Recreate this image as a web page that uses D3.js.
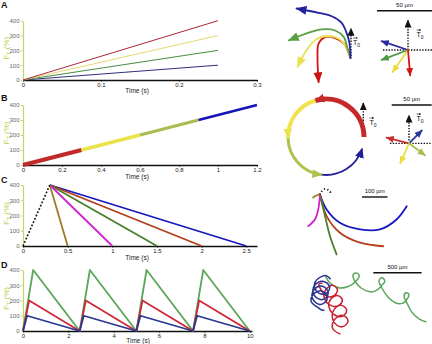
<!DOCTYPE html>
<html><head><meta charset="utf-8">
<script src="https://cdn.jsdelivr.net/npm/d3@7"></script>
<style>body{margin:0;background:#fff}svg{display:block;font-family:Arial,"Liberation Sans",sans-serif}</style>
</head><body><svg id="c" width="432" height="344"></svg>
<script>
// ================= DATA =================
const yTicks = [0, 100, 200, 300, 400];
const aTimeTicks = [0, 0.1, 0.2, 0.3];
const bTimeTicks = [0, 0.2, 0.4, 0.6, 0.8, 1, 1.2];
const cTimeTicks = [0, 0.5, 1, 1.5, 2, 2.5];
const dTimeTicks = [0, 2, 4, 6, 8, 10];

// Panel A: linear force ramps
const aTime = [0, 0.25];
const aRed = [0, 400];
const aYellow = [0, 300];
const aGreen = [0, 200];
const aBlue = [0, 100];

// Panel B: one ramp in four coloured pieces
const bTime = [[0, 0.3], [0.3, 0.6], [0.6, 0.9], [0.9, 1.2]];
const bForce = [[0, 100], [100, 200], [200, 300], [300, 400]];

// Panel C: rise then decays
const cRiseTime = [0, 0.3];
const cRiseForce = [0, 400];
const cPeakTime = 0.3;
const cDecayEnd = [2.5, 2, 1.5, 1, 0.5];

// Panel D: periodic sawtooth
const dTimeGreen = [0, 0.45, 2.5, 2.95, 5, 5.45, 7.5, 7.95, 10];
const dGreen = [0, 400, 0, 400, 0, 400, 0, 400, 0];
const dTimeRed = [0, 0.27, 2.5, 2.77, 5, 5.27, 7.5, 7.77, 10];
const dRed = [0, 200, 0, 200, 0, 200, 0, 200, 0];
const dTimeBlue = [0, 0.18, 2.5, 2.68, 5, 5.18, 7.5, 7.68, 10];
const dBlue = [0, 100, 0, 100, 0, 100, 0, 100, 0];

// Right column: trajectories (µm, relative to start)
const aTrajBlue = [[0,0],[-1,-14],[-4,-24],[-8,-32],[-17,-38],[-29,-41],[-49,-45]];
const aTrajGreen = [[0,0],[-3,-10],[-6,-19],[-14,-25],[-26,-26],[-38,-23],[-56,-16]];
const aTrajYellow = [[0,0],[-4,-10],[-10,-17],[-20,-20],[-31,-17],[-40,-7],[-48,8]];
const aTrajRed = [[0,0],[-6,-13],[-14,-18],[-23,-19],[-29,-13],[-30,-1],[-29,22]];
const aVectors = [[-24,-8],[-24,9],[-14,20],[2,23]]; // blue, green, yellow, red
const aT0 = 25;

const bRadius = 47.5;
const bArcStart = [0, 106, 181, 263];   // degrees, counter-clockwise from east
const bArcEnd = [106, 181, 263, 342];
const bVectors = [[-28,-7],[16,-16],[-11,25],[20,15]]; // red, blue, yellow, green
const bT0 = 40;

const cTrajDotted = [[42,-7],[33,-17],[20,-22],[7,-13],[0,0]];
const cTrajBrown = [[0,0],[-12,3],[-27,12]];
const cTrajMagenta = [[0,0],[-7,59],[-20,98],[-46,124]];
const cTrajGreen = [[0,0],[20,85],[39,163],[65,235]];
const cTrajRed = [[0,0],[26,85],[78,150],[157,189],[248,203]];
const cTrajBlue = [[0,0],[26,59],[78,111],[157,137],[235,137],[300,98],[340,46]];

const dTrajBlue = [[85,-95],[10,-125],[-80,-30],[0,65],[80,-5],[-10,-70],[-95,25],[-15,120],[65,50],[-20,-20],[-105,75],[-25,170],[55,100],[-30,30],[-115,125],[-30,210],[20,230]];
const dTrajRed = [[0,-50],[-30,-20],[65,90],[160,30],[90,-25],[20,85],[115,190],[210,135],[140,80],[70,185],[165,295],[255,240],[180,180],[105,290],[185,400],[270,340],[185,285],[105,395],[185,475]];
const dTrajGreen = [[40,-115],[95,-40],[185,0],[280,-20],[350,-70],[385,-125],[350,-155],[320,-125],[340,-70],[405,0],[495,40],[570,20],[620,-30],[650,-70],[620,-105],[590,-70],[610,-20],[675,85],[765,155],[840,155],[880,115],[900,70],[870,50],[850,85],[870,135],[930,250],[1005,320],[1075,350]];

const scaleBars = [50, 50, 100, 500];
const panelLetters = ['A', 'B', 'C', 'D'];

// ================= DRAW =================
const svg = d3.select('#c');
const yAxisColor = '#c3d866';
const labelGreen = '#b5cf4a';
const defs = svg.append('defs');
function marker(id, color, len, wid) {
  defs.append('marker').attr('id', id).attr('viewBox', '0 0 10 10')
    .attr('refX', 9).attr('refY', 5).attr('markerUnits', 'userSpaceOnUse')
    .attr('markerWidth', len).attr('markerHeight', wid).attr('orient', 'auto')
    .attr('preserveAspectRatio', 'none')
    .append('path').attr('d', 'M0,0L10,5L0,10Z').attr('fill', color);
}

function chart(p) {
  const x = d3.scaleLinear().domain(p.xDomain).range(p.xRange);
  const y = d3.scaleLinear().domain([0, 400]).range(p.yRange);
  const g = svg.append('g');
  const ya = g.append('g').attr('transform', `translate(${p.xRange[0]},0)`)
    .call(d3.axisLeft(y).tickValues(yTicks).tickSize(2).tickSizeOuter(0).tickPadding(1.5));
  ya.select('.domain').attr('stroke', yAxisColor).attr('stroke-width', 1.2);
  ya.selectAll('.tick line').attr('stroke', yAxisColor);
  ya.selectAll('text').attr('fill', '#666').style('font-size', '6px');
  const xa = g.append('g').attr('transform', `translate(0,${p.yRange[0]})`)
    .call(d3.axisBottom(x).tickValues(p.ticks).tickFormat(d => String(d)).tickSize(1.5).tickSizeOuter(0).tickPadding(1));
  xa.select('.domain').attr('stroke', '#111').attr('stroke-width', 1.3);
  xa.selectAll('text').attr('fill', '#222').style('font-size', '6px');
  g.append('text').attr('x', p.xTitle).attr('y', p.yRange[0] + p.titleGap).attr('text-anchor', 'middle')
    .style('font-size', '6.5px').attr('fill', '#222').text('Time (s)');
  const yl = g.append('text').attr('transform', `translate(9,${(p.yRange[0] + p.yRange[1]) / 2 - 2}) rotate(-90)`)
    .attr('text-anchor', 'middle').attr('fill', labelGreen).style('font-size', '8px');
  yl.append('tspan').text('F');
  yl.append('tspan').attr('dy', 1.8).style('font-size', '5.5px').text('T');
  yl.append('tspan').attr('dy', -1.8).text(' (%)');
  g.append('text').attr('x', 1).attr('y', p.letterY).style('font-size', '9px').style('font-weight', 'bold')
    .attr('fill', '#111').text(p.letter);
  return {g, x, y};
}
function seriesLine(c, times, vals, color, w, dash) {
  const pts = times.map((t, i) => [t, vals[i]]);
  c.g.append('path').attr('d', d3.line().x(d => c.x(d[0])).y(d => c.y(d[1]))(pts))
    .attr('fill', 'none').attr('stroke', color).attr('stroke-width', w)
    .attr('stroke-dasharray', dash || null).attr('stroke-linejoin', 'round');
}

// Panel A
const A = chart({xDomain: [0, 0.3], xRange: [23, 257], yRange: [80, 20.7], ticks: aTimeTicks, xTitle: 137, titleGap: 12.5, letter: panelLetters[0], letterY: 8});
seriesLine(A, aTime, aBlue, '#2e2e80', 1);
seriesLine(A, aTime, aGreen, '#4a8a40', 1);
seriesLine(A, aTime, aYellow, '#e6d870', 1);
seriesLine(A, aTime, aRed, '#a82838', 1);

// Panel B
const B = chart({xDomain: [0, 1.2], xRange: [23, 257], yRange: [165, 105], ticks: bTimeTicks, xTitle: 137, titleGap: 14, letter: panelLetters[1], letterY: 101});
const bColors = ['#c22a2a', '#ece24a', '#a8bd52', '#1414b8'];
const bWidths = [4, 3.6, 3, 2.6];
bTime.forEach((t, i) => seriesLine(B, t, bForce[i], bColors[i], bWidths[i]));

// Panel C
const C = chart({xDomain: [0, 2.62], xRange: [23, 257], yRange: [246, 185], ticks: cTimeTicks, xTitle: 137, titleGap: 14, letter: panelLetters[2], letterY: 183});
const cColors = ['#1818c0', '#b23e1a', '#4a7e2c', '#d022d0', '#a07a2a'];
cDecayEnd.forEach((e, i) => seriesLine(C, [cPeakTime, e], [400, 0], cColors[i], 1.8));
seriesLine(C, cRiseTime, cRiseForce, '#111', 1.6, '1.8,1.8');

// Panel D
const D = chart({xDomain: [0, 10.1], xRange: [23, 252], yRange: [331, 270], ticks: dTimeTicks, xTitle: 138, titleGap: 11.8, letter: panelLetters[3], letterY: 268});
seriesLine(D, dTimeGreen, dGreen, '#5aa65a', 1.8);
seriesLine(D, dTimeRed, dRed, '#d02838', 1.8);
seriesLine(D, dTimeBlue, dBlue, '#283890', 1.8);

// ---------- right column ----------
function panelScale(ox, oy, k) {
  return {x: d3.scaleLinear().domain([0, 1]).range([ox, ox + k]), y: d3.scaleLinear().domain([0, 1]).range([oy, oy + k]), k};
}
function traj(s, pts, color, w, curve, mk, dash) {
  svg.append('path').attr('d', d3.line().x(d => s.x(d[0])).y(d => s.y(d[1])).curve(curve)(pts))
    .attr('fill', 'none').attr('stroke', color).attr('stroke-width', w)
    .attr('stroke-dasharray', dash || null).attr('stroke-linecap', dash ? 'butt' : 'round')
    .attr('marker-end', mk ? `url(#${mk})` : null);
}
function scaleBar(s, um, x0, yb) {
  const len = um * s.k;
  svg.append('line').attr('x1', x0).attr('x2', x0 + len).attr('y1', yb).attr('y2', yb)
    .attr('stroke', '#111').attr('stroke-width', 1.4);
  svg.append('text').attr('x', x0 + len / 2).attr('y', yb - 4).attr('text-anchor', 'middle')
    .style('font-size', '6px').attr('fill', '#111').text(um + ' µm');
}
function t0Label(x, y) {
  const t = svg.append('text').attr('x', x).attr('y', y).style('font-size', '7px').attr('fill', '#111');
  t.append('tspan').text('T');
  t.append('tspan').attr('dy', 1.5).style('font-size', '5px').text('0');
  svg.append('line').attr('x1', x).attr('x2', x + 4.5).attr('y1', y - 7).attr('y2', y - 7)
    .attr('stroke', '#111').attr('stroke-width', 0.6).attr('marker-end', 'url(#mkTiny)');
}
function dottedUp(s, lenUm) {
  svg.append('line').attr('x1', s.x(0)).attr('x2', s.x(0)).attr('y1', s.y(0)).attr('y2', s.y(-lenUm))
    .attr('stroke', '#111').attr('stroke-width', 1.4).attr('stroke-dasharray', '1.4,1.4')
    .attr('marker-end', 'url(#mkBlack)');
}
marker('mkBlack', '#111', 8, 7);
marker('mkTiny', '#111', 2.2, 2);

const catmull = d3.curveCatmullRom.alpha(0.5);

// A right: trajectories
const sA = panelScale(350.5, 58, 1.1);
const aTrajCols = {blue: '#2222a0', green: '#58a040', yellow: '#ece050', red: '#d01414'};
Object.entries(aTrajCols).forEach(([k, c]) => marker('mkA' + k, c, 11, 9));
dottedUp(panelScale(351, 56, 1.1), aT0);
t0Label(353, 45);
traj(sA, aTrajRed, aTrajCols.red, 1.8, catmull, 'mkAred');
traj(sA, aTrajYellow, aTrajCols.yellow, 1.8, catmull, 'mkAyellow');
traj(sA, aTrajGreen, aTrajCols.green, 1.8, catmull, 'mkAgreen');
traj(sA, aTrajBlue, aTrajCols.blue, 1.8, catmull, 'mkAblue');
scaleBar(sA, scaleBars[0], 377, 10.7);

// A right: vector diagram
const sAv = panelScale(408, 50, 1.1);
svg.append('line').attr('x1', 383).attr('x2', 432).attr('y1', 50).attr('y2', 50)
  .attr('stroke', '#111').attr('stroke-width', 1.3).attr('stroke-dasharray', '1.4,1.4');
dottedUp(sAv, 27);
t0Label(416.5, 37);
const aVecCols = ['#2a2aa0', '#4c9a40', '#e8dc40', '#d01414'];
aVecCols.forEach((c, i) => marker('mkAv' + i, c, 8, 7));
aVectors.forEach((v, i) => traj(sAv, [[0, 0], v], aVecCols[i], 1.8, d3.curveLinear, 'mkAv' + i));

// B right: circle of arcs
const sB = panelScale(326, 137, 0.8);
const bArcCols = ['#c42a2a', '#f0e24c', '#aec24e', '#202098'];
const bArcW = [5, 4, 3, 1.8];
bArcCols.forEach((c, i) => marker('mkB' + i, c, 10, 9));
dottedUp(panelScale(363.3, 135, 0.8), bT0);
t0Label(369.5, 125);
for (let i = 3; i >= 0; i--) {
  const p = d3.path();
  p.arc(sB.x(0), sB.y(0), bRadius * sB.k, -bArcStart[i] * Math.PI / 180, -bArcEnd[i] * Math.PI / 180, true);
  svg.append('path').attr('d', p.toString()).attr('fill', 'none').attr('stroke', bArcCols[i])
    .attr('stroke-width', bArcW[i]).attr('marker-end', `url(#mkB${i})`);
}
scaleBar(sB, scaleBars[1], 391.7, 105);

// B right: vector diagram
const sBv = panelScale(409, 143.3, 0.8);
svg.append('line').attr('x1', 390).attr('x2', 432).attr('y1', 143.3).attr('y2', 143.3)
  .attr('stroke', '#111').attr('stroke-width', 1.3).attr('stroke-dasharray', '1.4,1.4');
dottedUp(sBv, 35);
t0Label(416.5, 121);
const bVecCols = ['#c83030', '#2a3a9a', '#e8e040', '#a6c050'];
bVecCols.forEach((c, i) => marker('mkBv' + i, c, 8, 7));
bVectors.forEach((v, i) => traj(sBv, [[0, 0], v], bVecCols[i], 1.8, d3.curveLinear, 'mkBv' + i));

// C right
const sC = panelScale(320, 194.5, 0.255);
traj(sC, cTrajBlue, '#1818c0', 1.8, catmull);
traj(sC, cTrajRed, '#b23e1a', 1.8, catmull);
traj(sC, cTrajGreen, '#4a7e2c', 1.8, catmull);
traj(sC, cTrajMagenta, '#d022d0', 1.8, catmull);
traj(sC, cTrajBrown, '#a07a2a', 1.8, catmull);
traj(sC, cTrajDotted, '#111', 1.8, catmull, null, '1.3,2.2');
scaleBar(sC, scaleBars[2], 362, 197);

// D right
const sD = panelScale(322, 288, 0.0966);
traj(sD, dTrajGreen, '#5aa65a', 1.5, d3.curveCardinal.tension(-0.3));
traj(sD, dTrajRed, '#c82030', 1.5, d3.curveCardinal.tension(-0.5));
traj(sD, dTrajBlue, '#283090', 1.5, d3.curveCardinal.tension(-0.5));
scaleBar(sD, scaleBars[3], 373.3, 272.7);
</script></body></html>
